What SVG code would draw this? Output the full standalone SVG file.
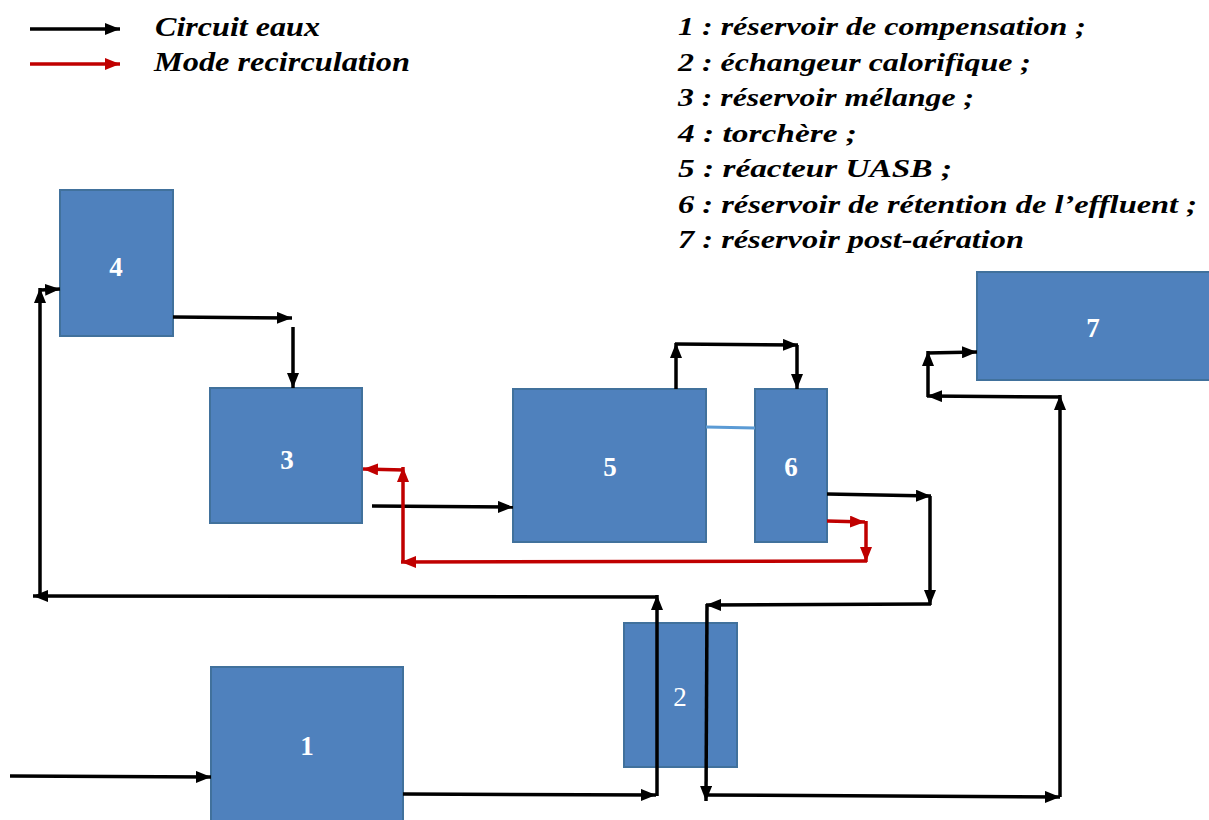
<svg xmlns="http://www.w3.org/2000/svg" width="1209" height="820" viewBox="0 0 1209 820">
<defs>
<marker id="ab" markerUnits="userSpaceOnUse" markerWidth="15" markerHeight="12" refX="15" refY="6" orient="auto"><path d="M0,0 L15,6 L0,12 z" fill="#000"/></marker>
<marker id="ar" markerUnits="userSpaceOnUse" markerWidth="15" markerHeight="12" refX="15" refY="6" orient="auto"><path d="M0,0 L15,6 L0,12 z" fill="#c00000"/></marker>
<style>
.n{fill:#4f81bd;stroke:#41719c;stroke-width:2}
.lb{font-family:'Liberation Serif',serif;font-weight:bold;font-size:27px;fill:#fff;text-anchor:middle}
.lr{font-family:'Liberation Serif',serif;font-size:27px;fill:#fff;text-anchor:middle}
.lg{font-family:'Liberation Serif',serif;font-weight:bold;font-style:italic;fill:#000}
.k{stroke:#000;stroke-width:3.5;fill:none;marker-end:url(#ab)}
.r{stroke:#c00000;stroke-width:3.5;fill:none;marker-end:url(#ar)}
</style>
</defs>
<rect width="1209" height="820" fill="#fff"/>
<g id="legend">
<line class="k" x1="30" y1="29" x2="120" y2="29"/>
<line class="r" x1="30" y1="64" x2="120" y2="64"/>
<text class="lg" x="155" y="36" font-size="27" textLength="165" lengthAdjust="spacingAndGlyphs">Circuit eaux</text>
<text class="lg" x="154" y="71" font-size="27" textLength="256" lengthAdjust="spacingAndGlyphs">Mode recirculation</text>
<text class="lg" font-size="25" x="678" y="35" textLength="408" lengthAdjust="spacingAndGlyphs">1 : réservoir de compensation ;</text>
<text class="lg" font-size="25" x="678" y="71" textLength="353" lengthAdjust="spacingAndGlyphs">2 : échangeur calorifique ;</text>
<text class="lg" font-size="25" x="678" y="106" textLength="296" lengthAdjust="spacingAndGlyphs">3 : réservoir mélange ;</text>
<text class="lg" font-size="25" x="678" y="142" textLength="179" lengthAdjust="spacingAndGlyphs">4 : torchère ;</text>
<text class="lg" font-size="25" x="678" y="177" textLength="274" lengthAdjust="spacingAndGlyphs">5 : réacteur UASB ;</text>
<text class="lg" font-size="25" x="678" y="213" textLength="519" lengthAdjust="spacingAndGlyphs">6 : réservoir de rétention de l’effluent ;</text>
<text class="lg" font-size="25" x="678" y="248" textLength="346" lengthAdjust="spacingAndGlyphs">7 : réservoir post-aération</text>
</g>
<g id="node4"><rect class="n" x="60" y="190" width="113" height="146"/><text class="lb" x="116" y="276">4</text></g>
<g id="node3"><rect class="n" x="210" y="388" width="152" height="135"/><text class="lb" x="287" y="469">3</text></g>
<g id="node5"><rect class="n" x="513" y="389" width="193" height="153"/><text class="lb" x="610" y="476">5</text></g>
<g id="node6"><rect class="n" x="755" y="389" width="72" height="153"/><text class="lb" x="791" y="476">6</text></g>
<g id="node7"><rect class="n" x="977" y="272" width="234" height="108"/><text class="lb" x="1093" y="337">7</text></g>
<g id="node2"><rect class="n" x="624" y="623" width="113" height="144"/><text class="lr" x="680" y="706">2</text></g>
<g id="node1"><rect class="n" x="211" y="667" width="192" height="160"/><text class="lb" x="307" y="755">1</text></g>
<g id="connectors">
<line x1="706" y1="427" x2="755" y2="428" stroke="#5b9bd5" stroke-width="3"/>
<line class="k" x1="10" y1="776" x2="211" y2="777"/>
<line class="k" x1="403" y1="794" x2="656" y2="795"/>
<line class="k" x1="657" y1="796" x2="657" y2="595"/>
<line class="k" x1="658" y1="597" x2="33" y2="596"/>
<line class="k" x1="40" y1="597" x2="40" y2="288"/>
<line class="k" x1="41" y1="290" x2="60" y2="289"/>
<line class="k" x1="173" y1="317" x2="292" y2="318"/>
<line class="k" x1="293" y1="327" x2="293" y2="388"/>
<line class="k" x1="372" y1="506" x2="513" y2="507"/>
<line class="k" x1="676" y1="389" x2="676" y2="343"/>
<line class="k" x1="675" y1="344" x2="798" y2="345"/>
<line class="k" x1="797" y1="345" x2="797" y2="389"/>
<line class="k" x1="827" y1="494" x2="931" y2="496"/>
<line class="k" x1="930" y1="496" x2="930" y2="605"/>
<line class="k" x1="931" y1="604" x2="706" y2="605"/>
<line class="k" x1="707" y1="604" x2="706" y2="801"/>
<line class="k" x1="705" y1="795" x2="1060" y2="797"/>
<line class="k" x1="1060" y1="797" x2="1060" y2="395"/>
<line class="k" x1="1061" y1="397" x2="927" y2="396"/>
<line class="k" x1="928" y1="397" x2="928" y2="351"/>
<line class="k" x1="927" y1="353" x2="977" y2="352"/>
<line class="r" x1="827" y1="521" x2="865" y2="522"/>
<line class="r" x1="866" y1="521" x2="866" y2="562"/>
<line class="r" x1="867" y1="561" x2="401" y2="562"/>
<line class="r" x1="403" y1="562" x2="403" y2="467"/>
<line class="r" x1="404" y1="470" x2="363" y2="469"/>
</g>
</svg>
